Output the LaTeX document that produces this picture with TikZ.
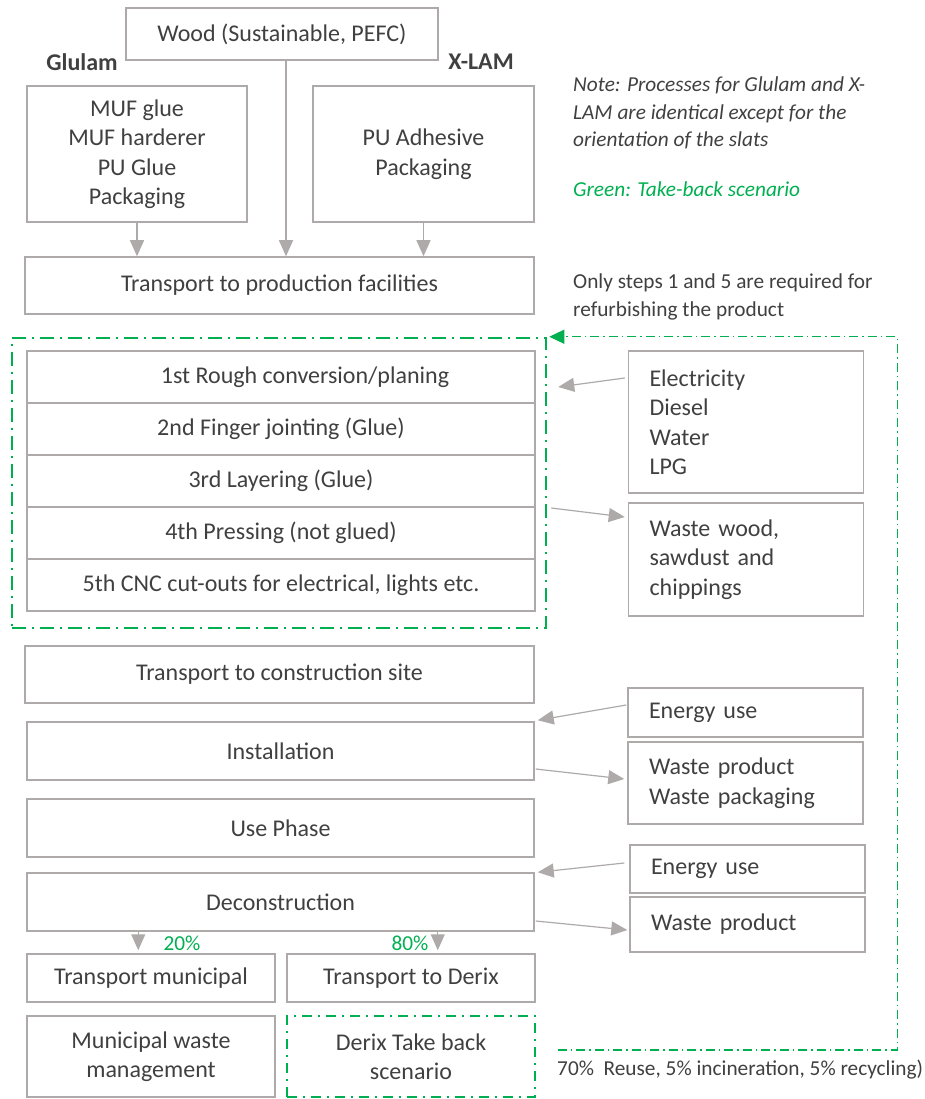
\documentclass[tikz,border=0pt]{standalone}
\usepackage{fontspec}
\setmainfont{Carlito}
\usetikzlibrary{arrows.meta,calc}

\definecolor{boxgray}{RGB}{174,170,170}
\definecolor{txtgray}{RGB}{64,64,64}
\definecolor{takeback}{RGB}{0,176,80}

\tikzset{
  procbox/.style={draw=boxgray, line width=1.5pt, text=txtgray, align=center, inner sep=0pt, font=\fontsize{24}{29.5}\selectfont},
  sidebox/.style={procbox, align=left, text width=193pt, inner xsep=21pt, minimum height=#1},
  flow/.style={draw=boxgray, line width=1.2pt, -{Triangle[length=16pt,width=14pt]}},
  notetext/.style={anchor=north west, inner sep=0pt, align=left, text=txtgray, font=\fontsize{21.3}{27.5}\selectfont},
  pct/.style={inner sep=0pt, text=takeback, font=\fontsize{21.3}{25}\selectfont},
  greenzone/.style={draw=takeback, line width=2.5pt, dash pattern=on 14pt off 6pt on 2pt off 6pt},
}

\begin{document}
\begin{tikzpicture}[x=1pt,y=1pt,yscale=-1,xscale=1]
\useasboundingbox (0,0) rectangle (924,1099);

%Wood and additives
\node[procbox, minimum width=312pt, minimum height=52pt] (wood) at (282,34) {Wood (Sustainable, PEFC)};
\node[text=txtgray, inner sep=0pt, font=\fontsize{24}{29}\selectfont\bfseries] (glulam) at (82,62) {Glulam};
\node[text=txtgray, inner sep=0pt, font=\fontsize{24}{29}\selectfont\bfseries] (xlam) at (481,62) {X-LAM};
\node[procbox, minimum width=220pt, minimum height=136pt] (muf) at (137,154) {MUF glue\\MUF harderer\\PU Glue\\Packaging};
\node[procbox, minimum width=221pt, minimum height=136pt] (pu) at (423.5,154) {PU Adhesive\\Packaging};
\node[procbox, minimum width=509pt, minimum height=57pt] (trprod) at (279.5,285.5) {Transport to production facilities};

\draw[flow] (muf.south) -- (muf.south |- trprod.north);
\coordinate (woodout) at ($(wood.south)+(4,0)$);
\draw[flow] (woodout) -- (woodout |- trprod.north);
\draw[flow] (pu.south) -- (pu.south |- trprod.north);

%Notes
\node[notetext, font=\fontsize{21.3}{27.5}\selectfont\itshape] (note) at (573,77) {Note: Processes for Glulam and X-\\LAM are identical except for the\\orientation of the slats};
\node[notetext, text=takeback, font=\fontsize{21.3}{27.5}\selectfont\itshape] (legend) at (573,182) {Green: Take-back scenario};
\node[notetext] (refurb) at (573,274) {Only steps 1 and 5 are required for\\refurbishing the product};

%Production steps
\node[greenzone, minimum width=534pt, minimum height=290pt] (prodzone) at (279,483) {};
\node[procbox, minimum width=508pt, minimum height=52pt] (step1) at (281,377) {\hspace*{48pt}1st Rough conversion/planing};
\node[procbox, minimum width=508pt, minimum height=52pt] (step2) at (281,429) {2nd Finger jointing (Glue)};
\node[procbox, minimum width=508pt, minimum height=52pt] (step3) at (281,481) {3rd Layering (Glue)};
\node[procbox, minimum width=508pt, minimum height=52pt] (step4) at (281,533) {4th Pressing (not glued)};
\node[procbox, minimum width=508pt, minimum height=52pt] (step5) at (281,585) {5th CNC cut-outs for electrical, lights etc.};

\node[sidebox=142pt] (elec) at (746,422) {Electricity\\Diesel\\Water\\LPG};
\node[sidebox=113pt] (wwood) at (746,559.5) {Waste wood,\\sawdust and\\chippings};
\draw[flow] ($(elec.west)+(-3,-44)$) -- ($(prodzone.east)+(11,-96)$);
\draw[flow] ($(prodzone.east)+(4,25)$) -- ($(wwood.west)+(-3,-42.5)$);

%Construction and use
\node[procbox, minimum width=509pt, minimum height=57pt] (trcons) at (279.5,674.5) {Transport to construction site};
\node[procbox, minimum width=507pt, minimum height=58pt] (install) at (280.5,751) {Installation};
\node[procbox, minimum width=507pt, minimum height=58pt] (usephase) at (280.5,828) {Use Phase};
\node[procbox, minimum width=507pt, minimum height=58pt] (decon) at (280.5,902) {Deconstruction};

\node[sidebox=49pt] (en1) at (745.5,712.5) {Energy use};
\node[sidebox=82pt] (wprod1) at (745.5,783) {Waste product\\Waste packaging};
\node[sidebox=48pt] (en2) at (747.5,869) {Energy use};
\node[sidebox=55pt] (wprod2) at (747.5,924.5) {Waste product};

\draw[flow] ($(en1.west)+(-1,-7.5)$) -- ($(install.north east)+(3,-1)$);
\draw[flow] ($(install.east)+(1,18)$) -- ($(wprod1.west)+(-3,-4)$);
\draw[flow] ($(en2.west)+(-5,-6)$) -- ($(decon.north east)+(3,0)$);
\draw[flow] ($(decon.east)+(1,19)$) -- ($(wprod2.west)+(-2,5.5)$);

%End of life
\node[procbox, minimum width=248pt, minimum height=48pt] (trmun) at (151,978) {Transport municipal};
\node[procbox, minimum width=248pt, minimum height=48pt] (trderix) at (411,978) {Transport to Derix};
\node[procbox, minimum width=248pt, minimum height=81pt] (munwaste) at (151,1056.5) {Municipal waste\\management};
\node[procbox, draw=takeback, line width=1.8pt, dash pattern=on 10pt off 6pt on 2pt off 6pt, minimum width=248pt, minimum height=81pt] (derix) at (411,1056.5) {Derix Take back\\scenario};

\coordinate (split20) at ($(decon.south west)+(112,0)$);
\coordinate (split80) at ($(decon.south east)+(-97,0)$);
\draw[flow, shorten >=3pt] (split20) -- (split20 |- trmun.north);
\draw[flow, shorten >=3pt] (split80) -- (split80 |- trderix.north);
\node[pct] (p20) at (182,943) {20\%};
\node[pct] (p80) at (410,943) {80\%};

%Take-back loop
\coordinate (loopstart) at ($(derix.east)+(22,-6.5)$);
\draw[draw=takeback, line width=1.1pt, dash pattern=on 9pt off 4pt on 1.5pt off 4pt, -{Triangle[length=15pt,width=14pt]}, shorten >=2pt]
  (loopstart) -| ($(prodzone.north east)+(350,0)$) -- (prodzone.north east);
\node[anchor=west, inner sep=0pt, text=txtgray, font=\fontsize{21.3}{25}\selectfont] (reuse) at (557,1070) {70\%~~Reuse, 5\% incineration, 5\% recycling)};

\end{tikzpicture}
\end{document}
